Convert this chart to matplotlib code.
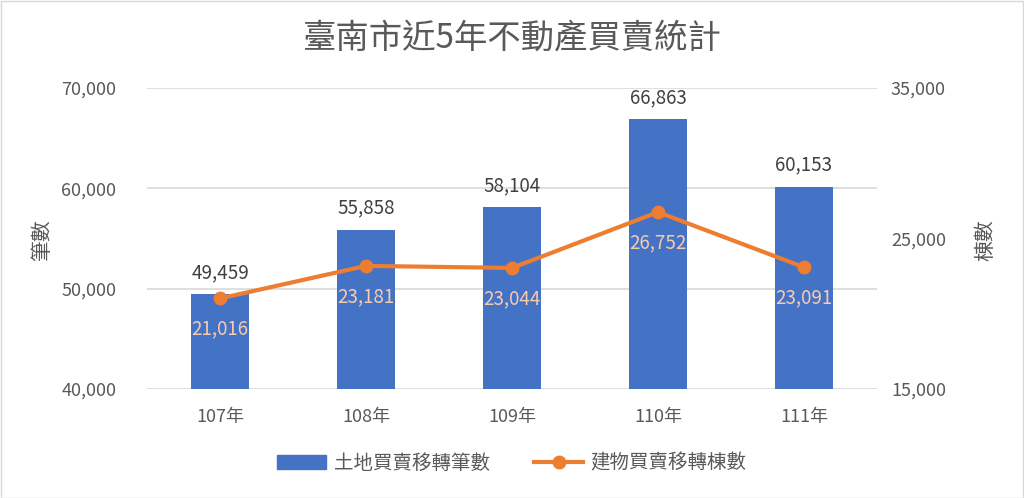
import matplotlib
matplotlib.use("Agg")
import matplotlib.pyplot as plt
from matplotlib.ticker import FuncFormatter, FixedLocator
from matplotlib.lines import Line2D
from matplotlib.patches import Patch

plt.rcParams['font.family'] = ['Noto Sans CJK TC', 'DejaVu Sans']

categories = ["107年", "108年", "109年", "110年", "111年"]
land = [49459, 55858, 58104, 66863, 60153]
building = [21016, 23181, 23044, 26752, 23091]
title = "臺南市近5年不動產買賣統計"
left_label = "筆數"
right_label = "棟數"
land_name = "土地買賣移轉筆數"
building_name = "建物買賣移轉棟數"

blue = "#4472C4"
orange = "#ED7D31"
label_orange = "#F8CBAD"
gray = "#595959"
dark = "#404040"
grid = "#D9D9D9"

fig = plt.figure(figsize=(10.24, 4.98), dpi=100)
fig.patch.set_facecolor("white")
ax = fig.add_axes([147/1024, 1-389/498, 730/1024, 301/498])
ax2 = ax.twinx()

x = list(range(len(categories)))
ax.bar(x, land, width=0.4, color=blue, zorder=2)
ax.set_xlim(-0.5, len(categories)-0.5)
ax.set_ylim(40000, 70000)
ax.yaxis.set_major_locator(FixedLocator([40000, 50000, 60000, 70000]))
fmt = FuncFormatter(lambda v, p: f"{int(v):,}")
ax.yaxis.set_major_formatter(fmt)
ax.grid(axis='y', color=grid, linewidth=1.2, zorder=0)
ax.set_axisbelow(True)
for s in ax.spines.values():
    s.set_visible(False)
for s in ax2.spines.values():
    s.set_visible(False)
ax.tick_params(axis='both', length=0, colors=gray, labelsize=13)
ax.tick_params(axis='y', pad=22)
ax.tick_params(axis='x', pad=14)
ax.set_xticks(x)
ax.set_xticklabels(categories)

for xi, v in zip(x, land):
    ax.annotate(f"{v:,}", (xi, v), xytext=(0, 8), textcoords='offset points',
                ha='center', va='bottom', fontsize=13.5, color=dark)

ax2.set_ylim(15000, 35000)
ax2.yaxis.set_major_locator(FixedLocator([15000, 25000, 35000]))
ax2.yaxis.set_major_formatter(fmt)
ax2.tick_params(axis='y', length=0, colors=gray, labelsize=13, pad=10)
ax2.plot(x, building, color=orange, linewidth=3, marker='o', markersize=9, zorder=3)
for xi, v in zip(x, building):
    ax2.annotate(f"{v:,}", (xi, v), xytext=(0, -22), textcoords='offset points',
                 ha='center', va='center', fontsize=13.5, color=label_orange)

fig.text(42/1024, 1-240/498, left_label, rotation=90, ha='center', va='center',
         fontsize=15, color=gray)
fig.text(985/1024, 1-240/498, right_label, rotation=90, ha='center', va='center',
         fontsize=15, color=gray)
fig.text(0.5, 1-38/498, title, ha='center', va='center', fontsize=24, color=gray)

handles = [Patch(facecolor=blue, edgecolor=blue),
           Line2D([0], [0], color=orange, linewidth=3, marker='o', markersize=9)]
leg = fig.legend(handles, [land_name, building_name], loc='center',
                 bbox_to_anchor=(0.5, 1-463/498), ncol=2, frameon=False,
                 fontsize=14, handlelength=2.5, columnspacing=2.3, handletextpad=0.4)
for t in leg.get_texts():
    t.set_color(gray)

border = plt.Rectangle((0.001, 0.001), 0.998, 0.997, transform=fig.transFigure,
                       fill=False, edgecolor="#D9D9D9", linewidth=1)
fig.patches.append(border)

fig.savefig("out.png", dpi=100, facecolor="white")
